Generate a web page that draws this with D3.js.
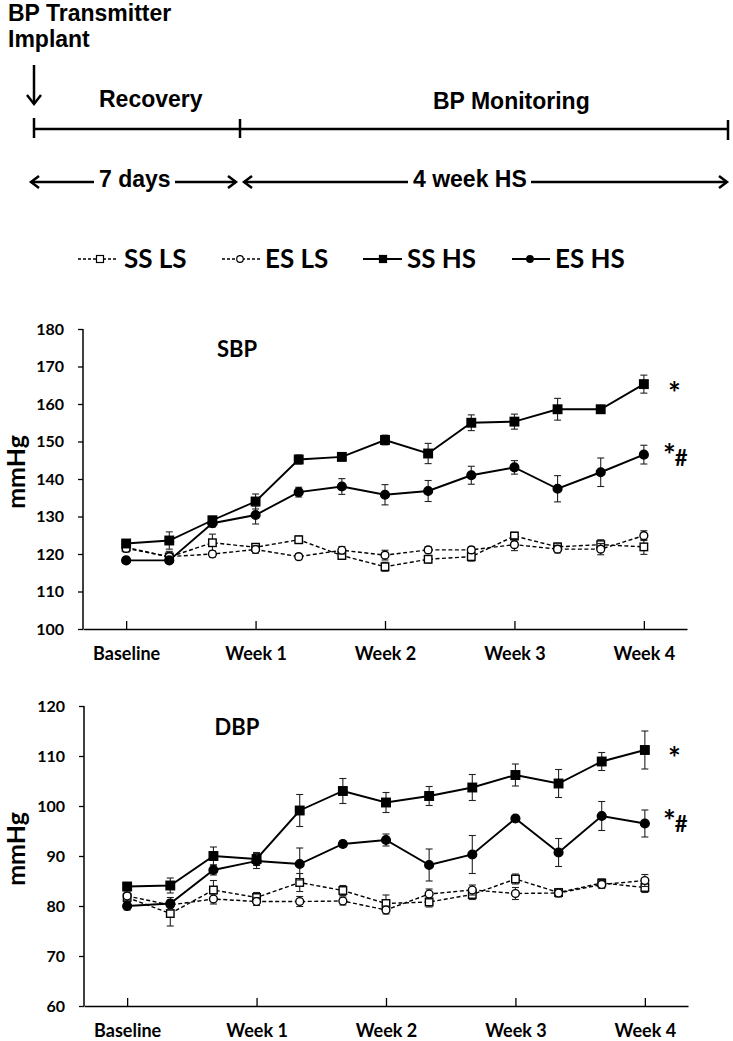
<!DOCTYPE html>
<html><head><meta charset="utf-8">
<script src="https://cdn.jsdelivr.net/npm/d3@7/dist/d3.min.js"></script>
<style>
html,body{margin:0;padding:0;background:#fff;}
svg{display:block;}
.top{font-family:"Liberation Sans",Arial,sans-serif;font-weight:bold;font-size:23px;fill:#000;}
.lab{font-family:Lato,"Open Sans",sans-serif;font-weight:bold;fill:#000;}
</style></head>
<body>
<svg id="c" width="733" height="1041"></svg>
<script>
// ---- data ----
const xLabels = ["Baseline","Week 1","Week 2","Week 3","Week 4"];
const xTickIdx = [0,3,6,9,12];
const seriesNames = ["SS LS","ES LS","SS HS","ES HS"];

const sbpTicks = [100,110,120,130,140,150,160,170,180];
const sbpSSLS = [121.8,119.2,123.0,121.8,123.8,119.6,116.6,118.6,119.3,124.8,121.9,122.5,121.9];
const sbpSSLSerr = [1.0,1.5,2.3,1.0,1.0,1.0,1.2,1.0,1.2,1.0,1.0,1.3,2.0];
const sbpESLS = [121.5,119.3,120.0,121.2,119.3,121.0,119.7,121.1,121.1,122.5,121.3,121.3,124.9];
const sbpESLSerr = [1.0,1.0,0.8,1.0,0.8,1.0,1.3,0.8,0.8,1.6,1.0,1.5,1.3];
const sbpSSHS = [122.8,123.6,129.0,134.0,145.2,145.9,150.4,146.8,155.0,155.3,158.6,158.6,165.3];
const sbpSSHSerr = [1.0,2.3,1.0,2.0,1.2,1.0,1.3,2.7,2.1,2.0,2.9,1.0,2.4];
const sbpESHS = [118.3,118.3,128.2,130.4,136.5,138.0,135.8,136.8,141.0,143.1,137.4,141.8,146.5];
const sbpESHSerr = [0.8,0.8,1.0,2.4,1.3,2.1,2.7,2.8,2.4,1.8,3.5,3.8,2.5];

const dbpTicks = [60,70,80,90,100,110,120];
const dbpSSLS = [81.7,78.5,83.2,81.7,84.7,83.1,80.5,80.8,82.3,85.4,82.7,84.6,83.7];
const dbpSSLSerr = [1.0,2.5,1.9,1.0,1.8,1.0,1.7,1.0,1.0,1.0,0.8,0.8,1.0];
const dbpESLS = [82.0,80.2,81.4,80.9,80.9,81.0,79.2,82.4,83.2,82.5,82.6,84.3,85.1];
const dbpESLSerr = [1.0,1.0,1.0,0.8,1.0,0.8,0.8,1.0,1.0,1.2,0.8,0.8,1.2];
const dbpSSHS = [83.9,84.1,90.0,89.4,99.1,103.0,100.7,102.0,103.7,106.2,104.5,108.9,111.2];
const dbpSSHSerr = [0.8,1.5,1.8,1.3,3.2,2.5,2.0,1.9,2.6,2.2,2.8,1.8,3.8];
const dbpESHS = [80.0,80.5,87.2,89.0,88.4,92.4,93.2,88.2,90.3,97.5,90.7,98.0,96.5];
const dbpESHSerr = [0.8,1.2,1.0,1.5,3.2,0.6,1.2,3.2,3.8,0.6,2.8,2.9,2.7];

const svg = d3.select("#c");

// ---- timeline header ----
const hdr = svg.append("g");
hdr.append("text").attr("class","top").attr("x",8).attr("y",21).text("BP Transmitter");
hdr.append("text").attr("class","top").attr("x",8).attr("y",47).text("Implant");
hdr.append("text").attr("class","top").attr("x",99).attr("y",107).text("Recovery");
hdr.append("text").attr("class","top").attr("x",433).attr("y",109).text("BP Monitoring");
hdr.append("text").attr("class","top").attr("x",99).attr("y",187).text("7 days");
hdr.append("text").attr("class","top").attr("x",413).attr("y",187).text("4 week HS");
const ln = (x1,y1,x2,y2,w)=>hdr.append("line").attr("x1",x1).attr("y1",y1).attr("x2",x2).attr("y2",y2)
  .attr("stroke","#000").attr("stroke-width",w||2.5).attr("stroke-linecap","butt");
const chev = (pts)=>hdr.append("path").attr("d",d3.line()(pts)).attr("fill","none").attr("stroke","#000").attr("stroke-width",2.5);
// down arrow
ln(34,65,34,104);
chev([[27,95],[34,104],[41,95]]);
// timeline
ln(34,129,729,129);
ln(34,118,34,138); ln(240,119,240,138); ln(728,120,728,140);
// duration arrows
ln(31,182,94,182); chev([[39,176],[31,182],[39,188]]);
ln(175,182,236,182); chev([[228,176],[236,182],[228,188]]);
ln(244,182,408,182); chev([[252,176],[244,182],[252,188]]);
ln(531,182,727,182); chev([[719,176],[727,182],[719,188]]);

// ---- legend ----
const leg = svg.append("g");
const legItems = [
  {name:seriesNames[0], x1:78, x2:118, mx:100, tx:124, dash:true, shape:"sq", fill:"#fff"},
  {name:seriesNames[1], x1:222, x2:260, mx:240, tx:265, dash:true, shape:"ci", fill:"#fff"},
  {name:seriesNames[2], x1:363, x2:402, mx:383, tx:407, dash:false, shape:"sq", fill:"#000"},
  {name:seriesNames[3], x1:512, x2:550, mx:530, tx:555, dash:false, shape:"ci", fill:"#000"}
];
legItems.forEach(d=>{
  leg.append("line").attr("x1",d.x1).attr("x2",d.x2).attr("y1",259).attr("y2",259)
    .attr("stroke","#000").attr("stroke-width",d.dash?1.3:1.8).attr("stroke-dasharray",d.dash?"3,2":null);
  if(d.shape==="sq") leg.append("rect").attr("x",d.mx-3.5).attr("y",255.5).attr("width",7).attr("height",7)
    .attr("fill",d.fill).attr("stroke","#000").attr("stroke-width",1.2);
  else leg.append("circle").attr("cx",d.mx).attr("cy",259).attr("r",3.3).attr("fill",d.fill).attr("stroke","#000").attr("stroke-width",1.2);
  leg.append("text").attr("class","lab").attr("x",d.tx).attr("y",268).attr("font-size",26).text(d.name);
});

// ---- chart panels ----
function panel(cfg){
  const g = svg.append("g");
  const x = d3.scaleLinear().domain([-1,13]).range([cfg.x0, cfg.x0+604]);
  const y = d3.scaleLinear().domain(cfg.domain).range([cfg.yb, cfg.yt]);
  // axes
  const ya = g.append("g").attr("transform",`translate(${cfg.x0},0)`)
    .call(d3.axisLeft(y).tickValues(cfg.ticks).tickSize(5).tickPadding(14).tickSizeOuter(0));
  ya.select(".domain").attr("stroke-width",1.5).attr("d",`M0,${cfg.yt}V${cfg.yb}`);
  ya.selectAll(".tick line").attr("stroke-width",1.3);
  ya.selectAll("text").attr("class","lab").attr("font-size",16).attr("font-family",null);
  const xa = g.append("g").attr("transform",`translate(0,${cfg.yb})`)
    .call(d3.axisBottom(x).tickValues(xTickIdx).tickFormat((d,i)=>xLabels[i]).tickSize(-8).tickPadding(18).tickSizeOuter(0));
  xa.select(".domain").attr("stroke-width",1.5);
  xa.selectAll(".tick line").attr("stroke-width",1.3);
  xa.selectAll("text").attr("class","lab").attr("font-size",18).attr("font-family",null);
  // y label
  g.append("text").attr("class","lab").attr("font-size",25).attr("text-anchor","middle")
    .attr("transform",`translate(25,${(cfg.yt+cfg.yb)/2-7}) rotate(-90)`).text("mmHg");
  // title
  g.append("text").attr("class","lab").attr("font-size",22).attr("text-anchor","middle")
    .attr("x",237).attr("y",cfg.titleY).text(cfg.title);
  // series
  const line = d3.line().x((d,i)=>x(i)).y(d=>y(d));
  cfg.series.forEach(s=>{
    g.append("path").attr("d",line(s.v)).attr("fill","none").attr("stroke","#000")
      .attr("stroke-width",s.dash?1.4:1.9).attr("stroke-dasharray",s.dash?"4,2.5":null);
  });
  cfg.series.forEach(s=>{
    const eb = g.append("g").attr("stroke","#222").attr("stroke-width",1.1);
    s.v.forEach((v,i)=>{
      const e = s.e[i], cx = x(i);
      eb.append("line").attr("x1",cx).attr("x2",cx).attr("y1",y(v+e)).attr("y2",y(v-e));
      eb.append("line").attr("x1",cx-3.5).attr("x2",cx+3.5).attr("y1",y(v+e)).attr("y2",y(v+e));
      eb.append("line").attr("x1",cx-3.5).attr("x2",cx+3.5).attr("y1",y(v-e)).attr("y2",y(v-e));
    });
    s.v.forEach((v,i)=>{
      if(s.shape==="sq"){
        const sz = s.fill==="#000"?8.5:7.5;
        g.append("rect").attr("x",x(i)-sz/2).attr("y",y(v)-sz/2).attr("width",sz).attr("height",sz)
          .attr("fill",s.fill).attr("stroke","#000").attr("stroke-width",1.4);
      } else {
        g.append("circle").attr("cx",x(i)).attr("cy",y(v)).attr("r",s.fill==="#000"?4.4:3.9)
          .attr("fill",s.fill).attr("stroke","#000").attr("stroke-width",1.4);
      }
    });
  });
  // significance marks
  g.append("text").attr("class","lab").attr("font-size",30).attr("x",668).attr("y",cfg.star1).text("*");
  const t2 = g.append("text").attr("class","lab").attr("x",663).attr("y",cfg.star2);
  t2.append("tspan").attr("font-size",30).text("*");
  t2.append("tspan").attr("font-size",22).attr("dx",-1).text("#");
  g.selectAll(".domain").attr("stroke","#000");
  g.selectAll(".tick line").attr("stroke","#000");
}

panel({x0:83, yt:329, yb:629, domain:[100,180], ticks:sbpTicks, title:"SBP", titleY:357,
  star1:404, star2:466,
  series:[
    {v:sbpSSLS, e:sbpSSLSerr, dash:true, shape:"sq", fill:"#fff"},
    {v:sbpESLS, e:sbpESLSerr, dash:true, shape:"ci", fill:"#fff"},
    {v:sbpSSHS, e:sbpSSHSerr, dash:false, shape:"sq", fill:"#000"},
    {v:sbpESHS, e:sbpESHSerr, dash:false, shape:"ci", fill:"#000"}
  ]});
panel({x0:84, yt:706, yb:1006, domain:[60,120], ticks:dbpTicks, title:"DBP", titleY:735,
  star1:769, star2:832,
  series:[
    {v:dbpSSLS, e:dbpSSLSerr, dash:true, shape:"sq", fill:"#fff"},
    {v:dbpESLS, e:dbpESLSerr, dash:true, shape:"ci", fill:"#fff"},
    {v:dbpSSHS, e:dbpSSHSerr, dash:false, shape:"sq", fill:"#000"},
    {v:dbpESHS, e:dbpESHSerr, dash:false, shape:"ci", fill:"#000"}
  ]});
</script>
</body></html>
